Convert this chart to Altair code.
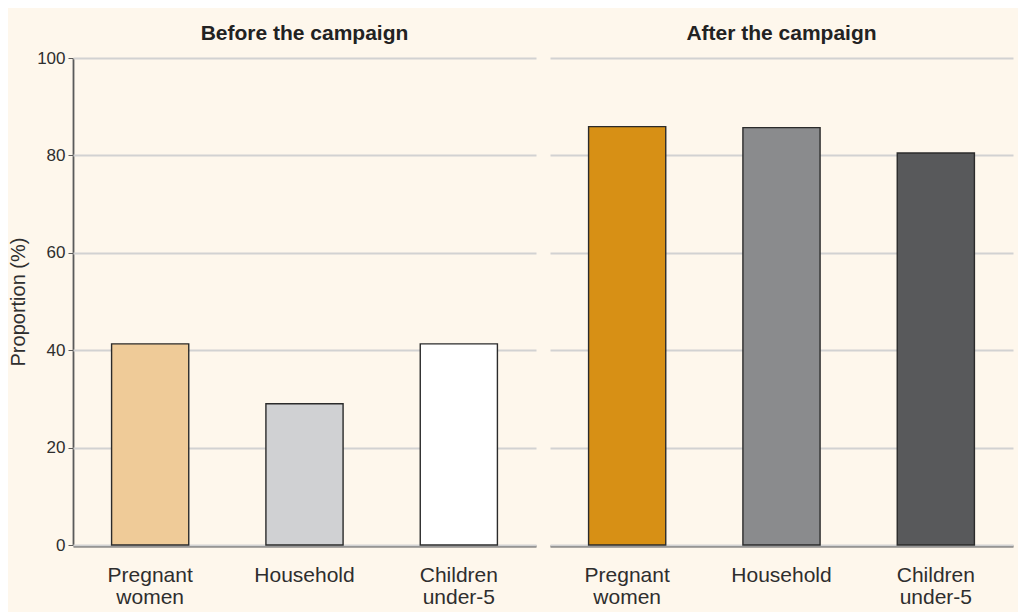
import altair as alt
import pandas as pd

periods = ["Before the campaign"] * 3 + ["After the campaign"] * 3
categories = ["Pregnant women", "Household", "Children under-5"] * 2
values = [41.3, 29.0, 41.3, 85.9, 85.7, 80.5]
keys = ["b_preg", "b_house", "b_child", "a_preg", "a_house", "a_child"]
colors = ["#EFCB98", "#D0D1D3", "#FFFFFF", "#D79015", "#8A8B8D", "#58595B"]
period_order = ["Before the campaign", "After the campaign"]
cat_order = ["Pregnant women", "Household", "Children under-5"]
y_ticks = [0, 20, 40, 60, 80, 100]

df = pd.DataFrame({"period": periods, "category": categories, "value": values, "key": keys})

FONT = "Liberation Sans"

bars = alt.Chart(df).mark_bar(stroke="#2b2b2b", strokeWidth=1.4).encode(
    x=alt.X("category:N", sort=cat_order, title=None,
            scale=alt.Scale(paddingInner=0.5, paddingOuter=0.25),
            axis=alt.Axis(labelAngle=0, labelExpr="split(datum.label, ' ')",
                          ticks=False, labelFontSize=21, labelPadding=18,
                          labelColor="#2e2e2e", labelFont=FONT, labelLineHeight=22,
                          domainColor="#5a5a5a", domainWidth=1.8)),
    y=alt.Y("value:Q", title="Proportion (%)",
            scale=alt.Scale(domain=[0, 100], nice=False),
            axis=alt.Axis(values=y_ticks, labelFontSize=17, labelColor="#2e2e2e",
                          labelFont=FONT, titleFont=FONT, titleFontSize=20,
                          titleFontWeight="normal", titleColor="#2e2e2e",
                          titlePadding=8, tickColor="#5a5a5a", tickSize=5,
                          labelPadding=3,
                          domainColor="#5a5a5a", domainWidth=1.8,
                          gridColor="#D2D2D2", gridWidth=1.8)),
    color=alt.Color("key:N", scale=alt.Scale(domain=keys, range=colors), legend=None),
).properties(width=463, height=487)

chart = bars.facet(
    column=alt.Column("period:N", sort=period_order, title=None,
                      header=alt.Header(labelFontSize=21, labelFontWeight="bold",
                                        labelFont=FONT, labelColor="#222222",
                                        labelPadding=14)),
    spacing=14,
).properties(
    padding={"left": 0, "top": 15, "right": 5, "bottom": 5}
).configure(background="#FEF7EC", font=FONT).configure_view(stroke=None)

chart.save("out.html", embed_options={"renderer": "svg", "actions": False})
